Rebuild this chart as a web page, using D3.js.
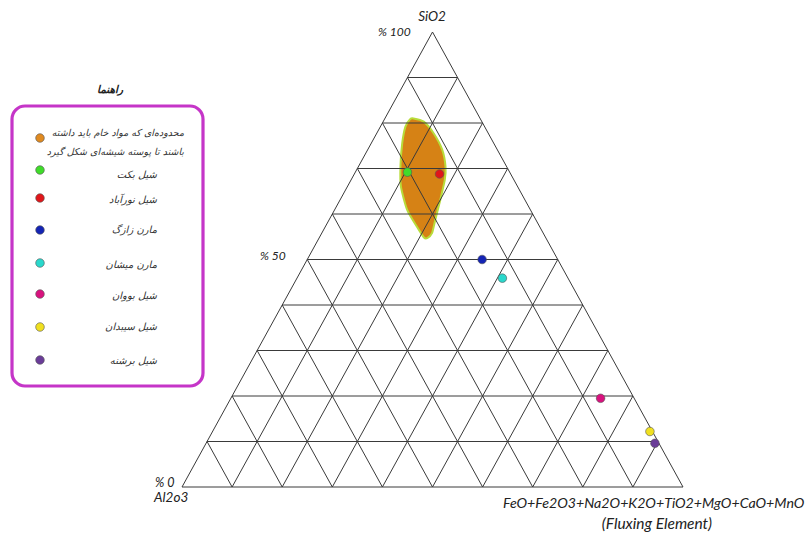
<!DOCTYPE html>
<html><head><meta charset="utf-8">
<script src="https://cdn.jsdelivr.net/npm/d3@7"></script>
<style>body{margin:0;background:#fff}svg{display:block}</style>
</head><body>
<svg id="c" width="811" height="536"></svg>
<script>
// ---- data (percent) ----
const gridSteps = [10,20,30,40,50,60,70,80,90];
const sampleNames = ["شیل بکت","شیل نورآباد","مارن زازگ","مارن میشان","شیل بووان","شیل سیبدان","شیل برشنه"];
const sampleSiO2  = [69.2, 68.8, 50.0, 45.9, 19.5, 12.2, 9.6];
const sampleFlux  = [10.4, 17.0, 34.9, 41.0, 73.8, 87.3, 89.6];
const sampleColors = ["#3fdc2a","#e0161a","#1424b4","#2ad8cc","#d8127e","#f0e020","#6a3c98"];
const regionSiO2 = [81.0,80.3,77.7,74.1,70.4,67.5,63.1,58.7,55.8,54.7,54.9,57.2,60.9,66.0,70.4,75.5,79.2,80.8];
const regionFlux = [5.7,8.1,11.4,14.9,17.4,18.7,20.0,21.2,22.0,21.6,20.8,18.3,14.5,10.7,8.4,6.2,5.0,5.1];
const regionLabel = ["محدوده‌ای که مواد خام باید داشته","باشند تا پوسته شیشه‌ای شکل گیرد"];
const legendTitle = "راهنما";

// ---- geometry ----
const Lx = 182, By = 487, Ty = 32;
const yS = d3.scaleLinear().domain([0,100]).range([By, Ty]);     // SiO2 -> y
const xS = d3.scaleLinear().domain([0,100]).range([0, 250.5]);   // SiO2 -> x shift
const xF = d3.scaleLinear().domain([0,100]).range([0, 501]);     // flux -> x shift
const P = (s,f) => [Lx + xS(s) + xF(f), yS(s)];

const svg = d3.select("#c");

// region
svg.append("path")
  .attr("d", d3.line().curve(d3.curveCardinalClosed.tension(0.3))(regionSiO2.map((s,i)=>P(s,regionFlux[i]))))
  .attr("fill","#d47b08").attr("fill-opacity",0.95)
  .attr("stroke","#b8dc3a").attr("stroke-width",2);

// grid
const g = svg.append("g").attr("stroke","#3a3a3a").attr("stroke-width",1).attr("fill","none");
gridSteps.forEach(k=>{
  g.append("line").attr("x1",P(k,0)[0]).attr("y1",P(k,0)[1]).attr("x2",P(k,100-k)[0]).attr("y2",P(k,100-k)[1]);
  g.append("line").attr("x1",P(0,k)[0]).attr("y1",P(0,k)[1]).attr("x2",P(100-k,k)[0]).attr("y2",P(100-k,k)[1]);
  g.append("line").attr("x1",P(0,100-k)[0]).attr("y1",P(0,100-k)[1]).attr("x2",P(100-k,0)[0]).attr("y2",P(100-k,0)[1]);
});
g.append("path").attr("d", d3.line()([P(100,0),P(0,0),P(0,100)]) + "Z");

// points
svg.selectAll("circle.pt").data(sampleNames).join("circle").attr("class","pt")
  .attr("cx",(d,i)=>P(sampleSiO2[i],sampleFlux[i])[0])
  .attr("cy",(d,i)=>P(sampleSiO2[i],sampleFlux[i])[1])
  .attr("r",4.3).attr("fill",(d,i)=>sampleColors[i]).attr("stroke","#555").attr("stroke-width",0.6);

// axis labels
const lat = "Lato, 'Open Sans', sans-serif";
const t = (x,y,s,size,anchor)=>svg.append("text").attr("x",x).attr("y",y).text(s)
  .attr("font-family",lat).attr("font-style","italic").attr("font-size",size)
  .attr("text-anchor",anchor||"start").attr("fill","#222");
t(432,21,"SiO2",13.5,"middle");
t(378,36,"% 100",12);
t(260,260,"% 50",12);
t(155,487,"% 0",12.5);
t(154,502,"Al2o3",13.5);
t(503,508,"FeO+Fe2O3+Na2O+K2O+TiO2+MgO+CaO+MnO",14.2);
t(657,529,"(Fluxing Element)",15.5,"middle");

// legend
const fa = "'DejaVu Sans', sans-serif";
svg.append("rect").attr("x",12).attr("y",106).attr("width",191).attr("height",280).attr("rx",13)
  .attr("fill","none").attr("stroke","#c535c8").attr("stroke-width",3.2);
svg.append("text").attr("x",110).attr("y",93).attr("text-anchor","middle").text(legendTitle)
  .attr("font-family",fa).attr("font-style","italic").attr("font-weight","bold").attr("font-size",10.5).attr("fill","#222");
const legY = [170,198,230,263,294,327,360];
const legTY = [178,203,233,268,299,330,364];
svg.append("circle").attr("cx",40).attr("cy",138).attr("r",4.3).attr("fill","#e08a20").attr("stroke","#555").attr("stroke-width",0.6);
regionLabel.forEach((s,i)=>svg.append("text").attr("x",184).attr("y",136+i*19).attr("text-anchor","start")
  .attr("direction","rtl").text(s).attr("font-family",fa).attr("font-style","italic").attr("font-size",9.5).attr("fill","#333"));
sampleNames.forEach((s,i)=>{
  svg.append("circle").attr("cx",40).attr("cy",legY[i]).attr("r",4.3).attr("fill",sampleColors[i]).attr("stroke","#555").attr("stroke-width",0.6);
  svg.append("text").attr("x",157).attr("y",legTY[i]).attr("text-anchor","start").attr("direction","rtl")
    .text(s).attr("font-family",fa).attr("font-style","italic").attr("font-size",10).attr("fill","#333");
});
</script>
</body></html>
